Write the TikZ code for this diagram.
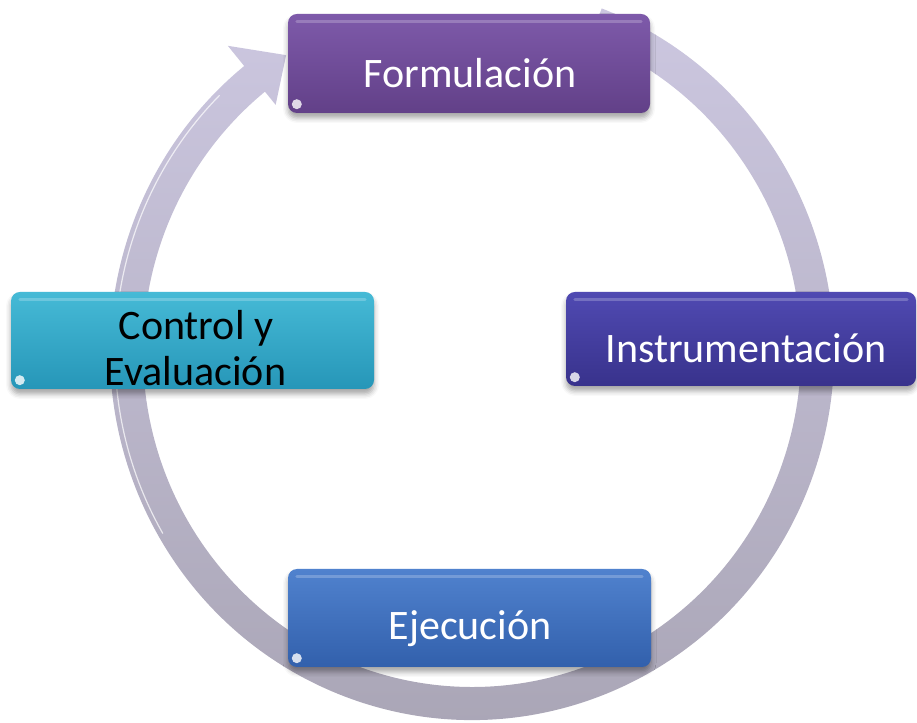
\documentclass[tikz,border=0pt]{standalone}
\usepackage{fontspec}
\setmainfont{Carlito}
\usetikzlibrary{calc,shadows.blur}
\definecolor{ringT}{RGB}{204,199,224}
\definecolor{ringB}{RGB}{168,164,180}
\definecolor{formT}{RGB}{126,90,170}
\definecolor{formB}{RGB}{98,64,136}
\definecolor{instT}{RGB}{80,74,178}
\definecolor{instB}{RGB}{56,50,140}
\definecolor{ctrlT}{RGB}{70,186,214}
\definecolor{ctrlB}{RGB}{38,150,184}
\definecolor{ejecT}{RGB}{80,130,206}
\definecolor{ejecB}{RGB}{50,96,172}
\begin{document}
\begin{tikzpicture}[x=1pt,y=1pt,
  box/.style={rounded corners=9pt, inner sep=0pt,
    blur shadow={shadow xshift=0pt, shadow yshift=-5pt, shadow blur radius=5pt, shadow opacity=35}},
  lbl/.style={font=\fontsize{42}{46}\selectfont, anchor=base, inner sep=0pt},
  gloss/.style={white, opacity=0.22, line width=3pt, line cap=round},
  glint/.style={white, opacity=0.8}]
\useasboundingbox (0,0) rectangle (917,722);
\coordinate (C) at (472,370);
% cycle arrow ring
\shade[top color=ringT, bottom color=ringB]
  ($(C)+(69:362pt and 368pt)$)
  arc[start angle=69, end angle=-231, x radius=362pt, y radius=368pt]
  -- ($(C)+(-231:388pt and 394pt)$)
  -- ($(C)+(-237.5:346pt and 352pt)$)
  -- ($(C)+(-231:312pt and 318pt)$)
  -- ($(C)+(-231:329pt and 335pt)$)
  arc[start angle=-231, end angle=69, x radius=329pt, y radius=335pt]
  -- cycle;
\draw[white, opacity=0.7, line width=1.2pt]
  ($(C)+(-150:357pt and 363pt)$)
  arc[start angle=-150, end angle=-225, x radius=357pt, y radius=363pt];
% boxes
\node[box, minimum width=362pt, minimum height=99pt, top color=formT, bottom color=formB] (form) at (469,658.5) {};
\node[box, minimum width=350pt, minimum height=94pt, top color=instT, bottom color=instB] (inst) at (741,383) {};
\node[box, minimum width=363pt, minimum height=97pt, top color=ctrlT, bottom color=ctrlB] (ctrl) at (192.5,381.5) {};
\node[box, minimum width=363pt, minimum height=98pt, top color=ejecT, bottom color=ejecB] (ejec) at (469.5,104) {};
\foreach \b in {form,inst,ctrl,ejec}{
  \draw[gloss] ($(\b.north west)+(9pt,-8pt)$) -- ($(\b.north east)+(-9pt,-8pt)$);
  \fill[glint] ($(\b.south west)+(9pt,9pt)$) circle (5pt);
}
% labels
\node[lbl, white] (tform) at (470,634) {Formulación};
\node[lbl, white] (tinst) at (746,359) {Instrumentación};
\node[lbl, white] (tejec) at (470,82) {Ejecución};
\node[lbl, black] (tctrl1) at (196,382) {Control y};
\node[lbl, black] (tctrl2) at (195.5,336) {Evaluación};
\end{tikzpicture}
\end{document}
